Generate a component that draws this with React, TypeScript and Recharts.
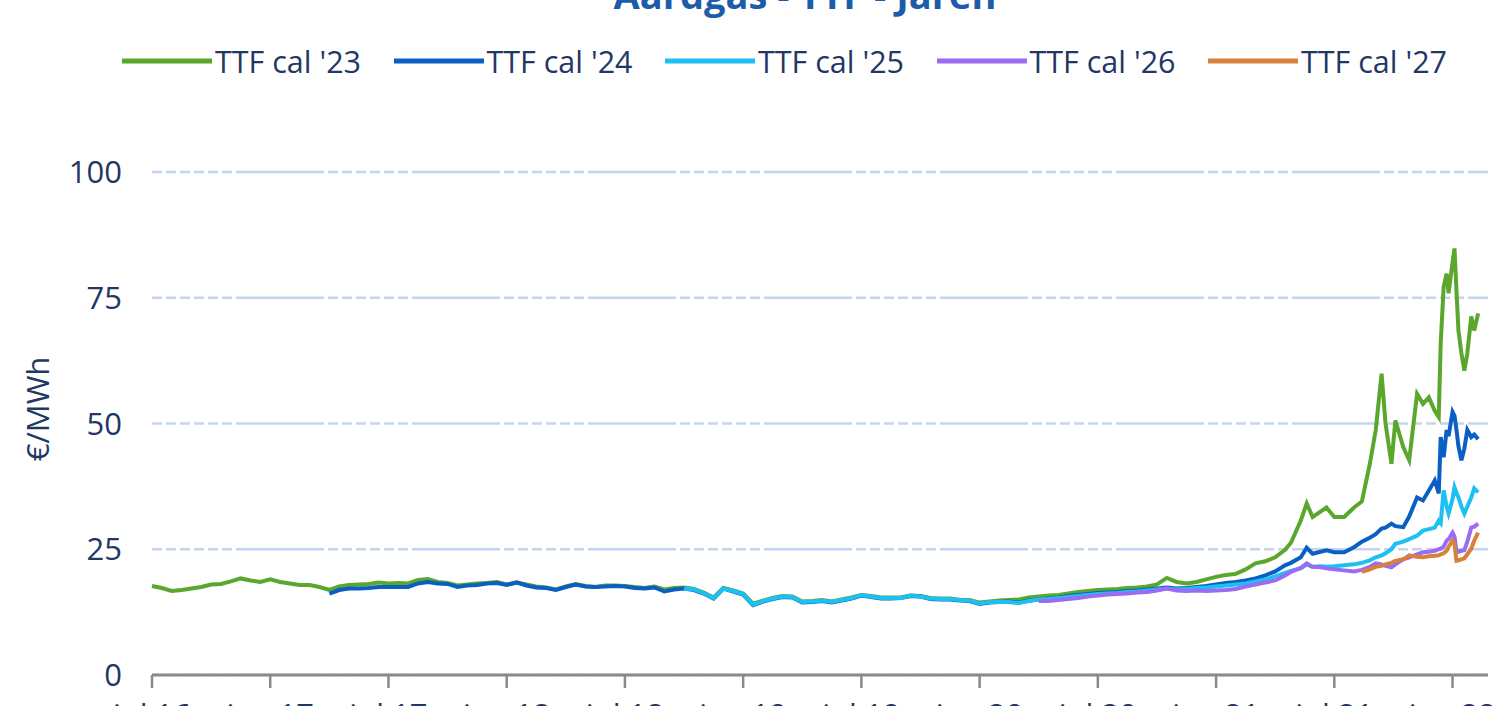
import React from 'react';
import { LineChart, Line, XAxis, YAxis, CartesianGrid, Legend, Label } from 'recharts';

// months since 1 jul 2016
const months = [
  0, 0.5, 1, 1.5, 2, 2.5, 3, 3.5, 4, 4.5,
  5, 5.5, 6, 6.5, 7, 7.5, 8, 8.5, 9, 9.5,
  10, 10.5, 11, 11.5, 12, 12.5, 13, 13.5, 14, 14.5,
  15, 15.5, 16, 16.5, 17, 17.5, 18, 18.5, 19, 19.5,
  20, 20.5, 21, 21.5, 22, 22.5, 23, 23.5, 24, 24.5,
  25, 25.5, 26, 26.5, 27, 27.5, 28, 28.5, 29, 29.5,
  30, 30.5, 31, 31.5, 32, 32.5, 33, 33.5, 34, 34.5,
  35, 35.5, 36, 36.5, 37, 37.5, 38, 38.5, 39, 39.5,
  40, 40.5, 41, 41.5, 42, 42.5, 43, 43.5, 44, 44.5,
  45, 45.5, 46, 46.5, 47, 47.5, 48, 48.5, 49, 49.5,
  50, 50.5, 51, 51.5, 52, 52.5, 53,
  53.5, 54, 54.5, 55, 55.5, 56, 56.5, 57, 57.5, 57.8,
  58.3, 58.6, 58.9, 59.3, 59.6, 60, 60.5, 61, 61.4, 61.8,
  62.1, 62.4, 62.6, 62.9, 63.1, 63.5, 63.8, 64.2, 64.5, 64.8,
  65.1, 65.3, 65.4, 65.55, 65.7, 65.8, 66.0, 66.1, 66.2, 66.3,
  66.45, 66.6, 66.75, 66.95, 67.1, 67.3,
];

const tickMonths = [0, 6, 12, 18, 24, 30, 36, 42, 48, 54, 60, 66];
const tickLabels = ['jul 16', 'jan 17', 'jul 17', 'jan 18', 'jul 18', 'jan 19', 'jul 19', 'jan 20', 'jul 20', 'jan 21', 'jul 21', 'jan 22'];
const yTicks = [0, 25, 50, 75, 100];

const cal23Start = 0;
const cal23 = [
  17.7, 17.3, 16.7, 16.9, 17.2, 17.5, 18.0, 18.1, 18.6, 19.2,
  18.8, 18.5, 19.0, 18.5, 18.2, 17.9, 17.9, 17.5, 16.9, 17.6,
  17.9, 18.0, 18.1, 18.4, 18.2, 18.3, 18.2, 18.9, 19.1, 18.5,
  18.3, 17.8, 18.0, 18.2, 18.3, 18.5, 18.0, 18.4, 18.0, 17.6,
  17.4, 17.0, 17.6, 18.1, 17.7, 17.5, 17.8, 17.8, 17.7, 17.5,
  17.3, 17.6, 17.0, 17.3, 17.4, 17.1, 16.4, 15.4, 17.3, 16.8,
  16.2, 14.2, 14.8, 15.3, 15.7, 15.6, 14.6, 14.7, 14.9, 14.6,
  15.0, 15.4, 15.9, 15.7, 15.4, 15.4, 15.4, 15.8, 15.7, 15.3,
  15.2, 15.2, 14.9, 14.9, 14.4, 14.6, 14.8, 14.9, 15.0, 15.4,
  15.6, 15.8, 15.9, 16.2, 16.5, 16.7, 16.9, 17.0, 17.1, 17.3,
  17.4, 17.6, 18.0, 19.3, 18.5, 18.2, 18.5,
  19.0, 19.5, 19.9, 20.1, 21.0, 22.2, 22.6, 23.4, 24.9, 26.3,
  30.7, 34.1, 31.4, 32.5, 33.3, 31.4, 31.4, 33.3, 34.5, 41.9,
  48.6, 59.9, 50, 42, 50.6, 45.3, 42.7, 55.9, 53.9, 55.2,
  52.5, 51.3, 66, 77.2, 79.8, 75.9, 82, 84.8, 76.4, 68.5,
  64, 60.5, 63.9, 71.3, 68.5, 71.9,
];

const cal24Start = 18;
const cal24 = [
  16.2, 16.9,
  17.2, 17.2, 17.3, 17.5, 17.5, 17.5, 17.5, 18.2, 18.5, 18.2,
  18.1, 17.5, 17.8, 17.9, 18.2, 18.3, 17.9, 18.4, 17.8, 17.4,
  17.3, 16.9, 17.5, 18.0, 17.6, 17.5, 17.6, 17.7, 17.6, 17.3,
  17.2, 17.4, 16.6, 17.0, 17.2, 16.9, 16.2, 15.2, 17.2, 16.6,
  16.0, 13.9, 14.6, 15.1, 15.5, 15.4, 14.4, 14.5, 14.7, 14.4,
  14.8, 15.2, 15.8, 15.5, 15.2, 15.2, 15.3, 15.7, 15.6, 15.1,
  15.0, 15.0, 14.8, 14.7, 14.1, 14.4, 14.5, 14.6, 14.4, 14.8,
  15.0, 15.2, 15.4, 15.7, 15.9, 16.1, 16.3, 16.4, 16.5, 16.7,
  16.8, 17.0, 17.2, 17.4, 17.2, 17.3, 17.5,
  17.7, 18.0, 18.3, 18.5, 18.8, 19.2, 19.8, 20.6, 21.8, 22.3,
  23.4, 25.3, 24.1, 24.5, 24.8, 24.4, 24.4, 25.4, 26.5, 27.3,
  28.0, 29.1, 29.3, 30.1, 29.6, 29.4, 31.5, 35.3, 34.7, 36.7,
  38.7, 36.1, 47.3, 43.3, 48.7, 47.5, 52.3, 51.5, 48.7, 45.5,
  42.7, 45, 48.7, 47.3, 47.8, 46.9,
];

const cal25Start = 54;
const cal25 = [
  17.2, 17.0, 16.3, 15.3, 17.2, 16.7,
  16.1, 14.0, 14.7, 15.2, 15.6, 15.5, 14.5, 14.6, 14.8, 14.5,
  14.9, 15.3, 15.9, 15.6, 15.3, 15.3, 15.3, 15.8, 15.6, 15.2,
  15.1, 15.1, 14.9, 14.8, 14.2, 14.5, 14.5, 14.5, 14.3, 14.7,
  15.0, 15.1, 15.3, 15.5, 15.7, 15.9, 16.1, 16.2, 16.3, 16.5,
  16.6, 16.8, 17.0, 17.2, 17.0, 17.1, 17.3,
  17.4, 17.6, 17.8, 18.0, 18.2, 18.6, 19.0, 19.6, 20.3, 20.7,
  21.2, 22.0, 21.5, 21.6, 21.5, 21.6, 21.8, 22.0, 22.3, 22.8,
  23.4, 23.8, 24.2, 25.0, 26.1, 26.5, 27.0, 27.7, 28.7, 29.0,
  29.3, 30.7, 30.2, 36.7, 33.5, 32.1, 35, 37.3, 36.2, 35.3,
  33.5, 32.1, 33.5, 35.3, 37.1, 36.3,
];

const cal26Start = 90;
const cal26 = [
  14.7, 14.7, 14.9, 15.1, 15.3, 15.6, 15.8, 16.0, 16.1, 16.2,
  16.4, 16.5, 16.8, 17.2, 16.8, 16.7, 16.8,
  16.7, 16.8, 16.9, 17.1, 17.6, 18.0, 18.4, 18.8, 19.8, 20.5,
  21.3, 22.2, 21.5, 21.4, 21.2, 21.0, 20.8, 20.6, 20.9, 21.5,
  22.2, 22.0, 21.7, 21.4, 22.0, 23.0, 23.4, 24.0, 24.4, 24.5,
  24.7, 25.0, 25.1, 25.5, 26.7, 27.0, 28.3, 27.5, 24.7, 24.5,
  24.7, 24.8, 26.5, 29.3, 29.5, 30.1,
];

const cal27Start = 125;
const cal27 = [
  20.5, 21.0, 21.5, 21.7, 22.0, 22.3, 22.7, 23.0, 23.8, 23.5,
  23.4, 23.6, 23.7, 23.8, 24.0, 24.2, 24.7, 25.5, 26.7, 26.0,
  22.7, 22.8, 23.0, 23.2, 24.0, 25.1, 26.7, 28.3,
];

const seriesKeys = ['c23', 'c24', 'c25', 'c26', 'c27'];
const seriesNames = ["TTF cal '23", "TTF cal '24", "TTF cal '25", "TTF cal '26", "TTF cal '27"];
const seriesColors = ['#5ba62c', '#0a5fc4', '#1cc0f2', '#9a6cf4', '#d7813a'];

const pick = (arr: number[], start: number, i: number) =>
  i >= start && i - start < arr.length ? arr[i - start] : null;

const data = months.map((t, i) => ({
  t,
  c23: pick(cal23, cal23Start, i),
  c24: pick(cal24, cal24Start, i),
  c25: pick(cal25, cal25Start, i),
  c26: pick(cal26, cal26Start, i),
  c27: pick(cal27, cal27Start, i),
}));

const TEXT = '#1f3864';
const FONT = "'Open Sans', sans-serif";

const renderLegend = () => (
  <div style={{ display: 'flex', flexDirection: 'row', alignItems: 'center', height: 42 }}>
    {seriesNames.map((name, i) => (
      <div key={name} style={{ display: 'flex', alignItems: 'center', width: 271.5, flex: '0 0 271.5px' }}>
        <svg width={90} height={8} style={{ display: 'block' }}>
          <line x1={0} y1={4} x2={90} y2={4} stroke={seriesColors[i]} strokeWidth={5} />
        </svg>
        <span style={{ marginLeft: 3, fontSize: 30.5, color: TEXT, fontFamily: FONT, lineHeight: '42px', whiteSpace: 'nowrap' }}>
          {name}
        </span>
      </div>
    ))}
  </div>
);

const renderYLabel = () => (
  <text
    x={37}
    y={409}
    transform="rotate(-90, 37, 409)"
    textAnchor="middle"
    dominantBaseline="central"
    fontSize={31}
    fill={TEXT}
    fontFamily={FONT}
  >
    €/MWh
  </text>
);

export default function App() {
  return (
    <div
      style={{
        position: 'absolute',
        left: 0,
        top: 0,
        width: 1499,
        height: 706,
        overflow: 'hidden',
        background: '#ffffff',
        fontFamily: FONT,
      }}
    >
      <div
        style={{
          position: 'absolute',
          left: 0,
          top: -25,
          width: 1610,
          textAlign: 'center',
          fontSize: 38,
          lineHeight: '38px',
          fontWeight: 700,
          color: '#1d5ca8',
          fontFamily: FONT,
          whiteSpace: 'nowrap',
        }}
      >
        Aardgas - TTF - Jaren
      </div>
      <LineChart
        width={1499}
        height={760}
        data={data}
        margin={{ top: 172, right: 11, bottom: 25, left: 0 }}
      >
        <CartesianGrid
          vertical={false}
          stroke="#c4d6ee"
          strokeWidth={2.5}
          strokeDasharray="10 4 10 4 10 4 10 4 10 4 10 4 88 4"
        />
        <XAxis
          dataKey="t"
          type="number"
          domain={[0, 67.8]}
          ticks={tickMonths}
          tickFormatter={(v: number) => tickLabels[tickMonths.indexOf(v)] ?? ''}
          axisLine={{ stroke: '#8a8a8a', strokeWidth: 3 }}
          tickLine={{ stroke: '#8a8a8a', strokeWidth: 2.5 }}
          tickSize={13}
          tickMargin={16}
          height={60}
          tick={{ fontSize: 31, fill: TEXT, fontFamily: FONT }}
          interval={0}
        />
        <YAxis
          type="number"
          domain={[0, 100]}
          ticks={yTicks}
          axisLine={false}
          tickLine={false}
          tickSize={0}
          tickMargin={30}
          width={152}
          tick={{ fontSize: 31, fill: TEXT, fontFamily: FONT }}
          interval={0}
        >
          <Label content={renderYLabel} />
        </YAxis>
        <Legend
          layout="horizontal"
          verticalAlign="middle"
          align="center"
          wrapperStyle={{ top: 40, left: 122, width: 1377, height: 42 }}
          content={renderLegend}
        />
        {seriesKeys.map((k, i) => (
          <Line
            key={k}
            dataKey={k}
            name={seriesNames[i]}
            type="linear"
            stroke={seriesColors[i]}
            strokeWidth={4}
            dot={false}
            activeDot={false}
            isAnimationActive={false}
            connectNulls={false}
          />
        ))}
      </LineChart>
    </div>
  );
}
